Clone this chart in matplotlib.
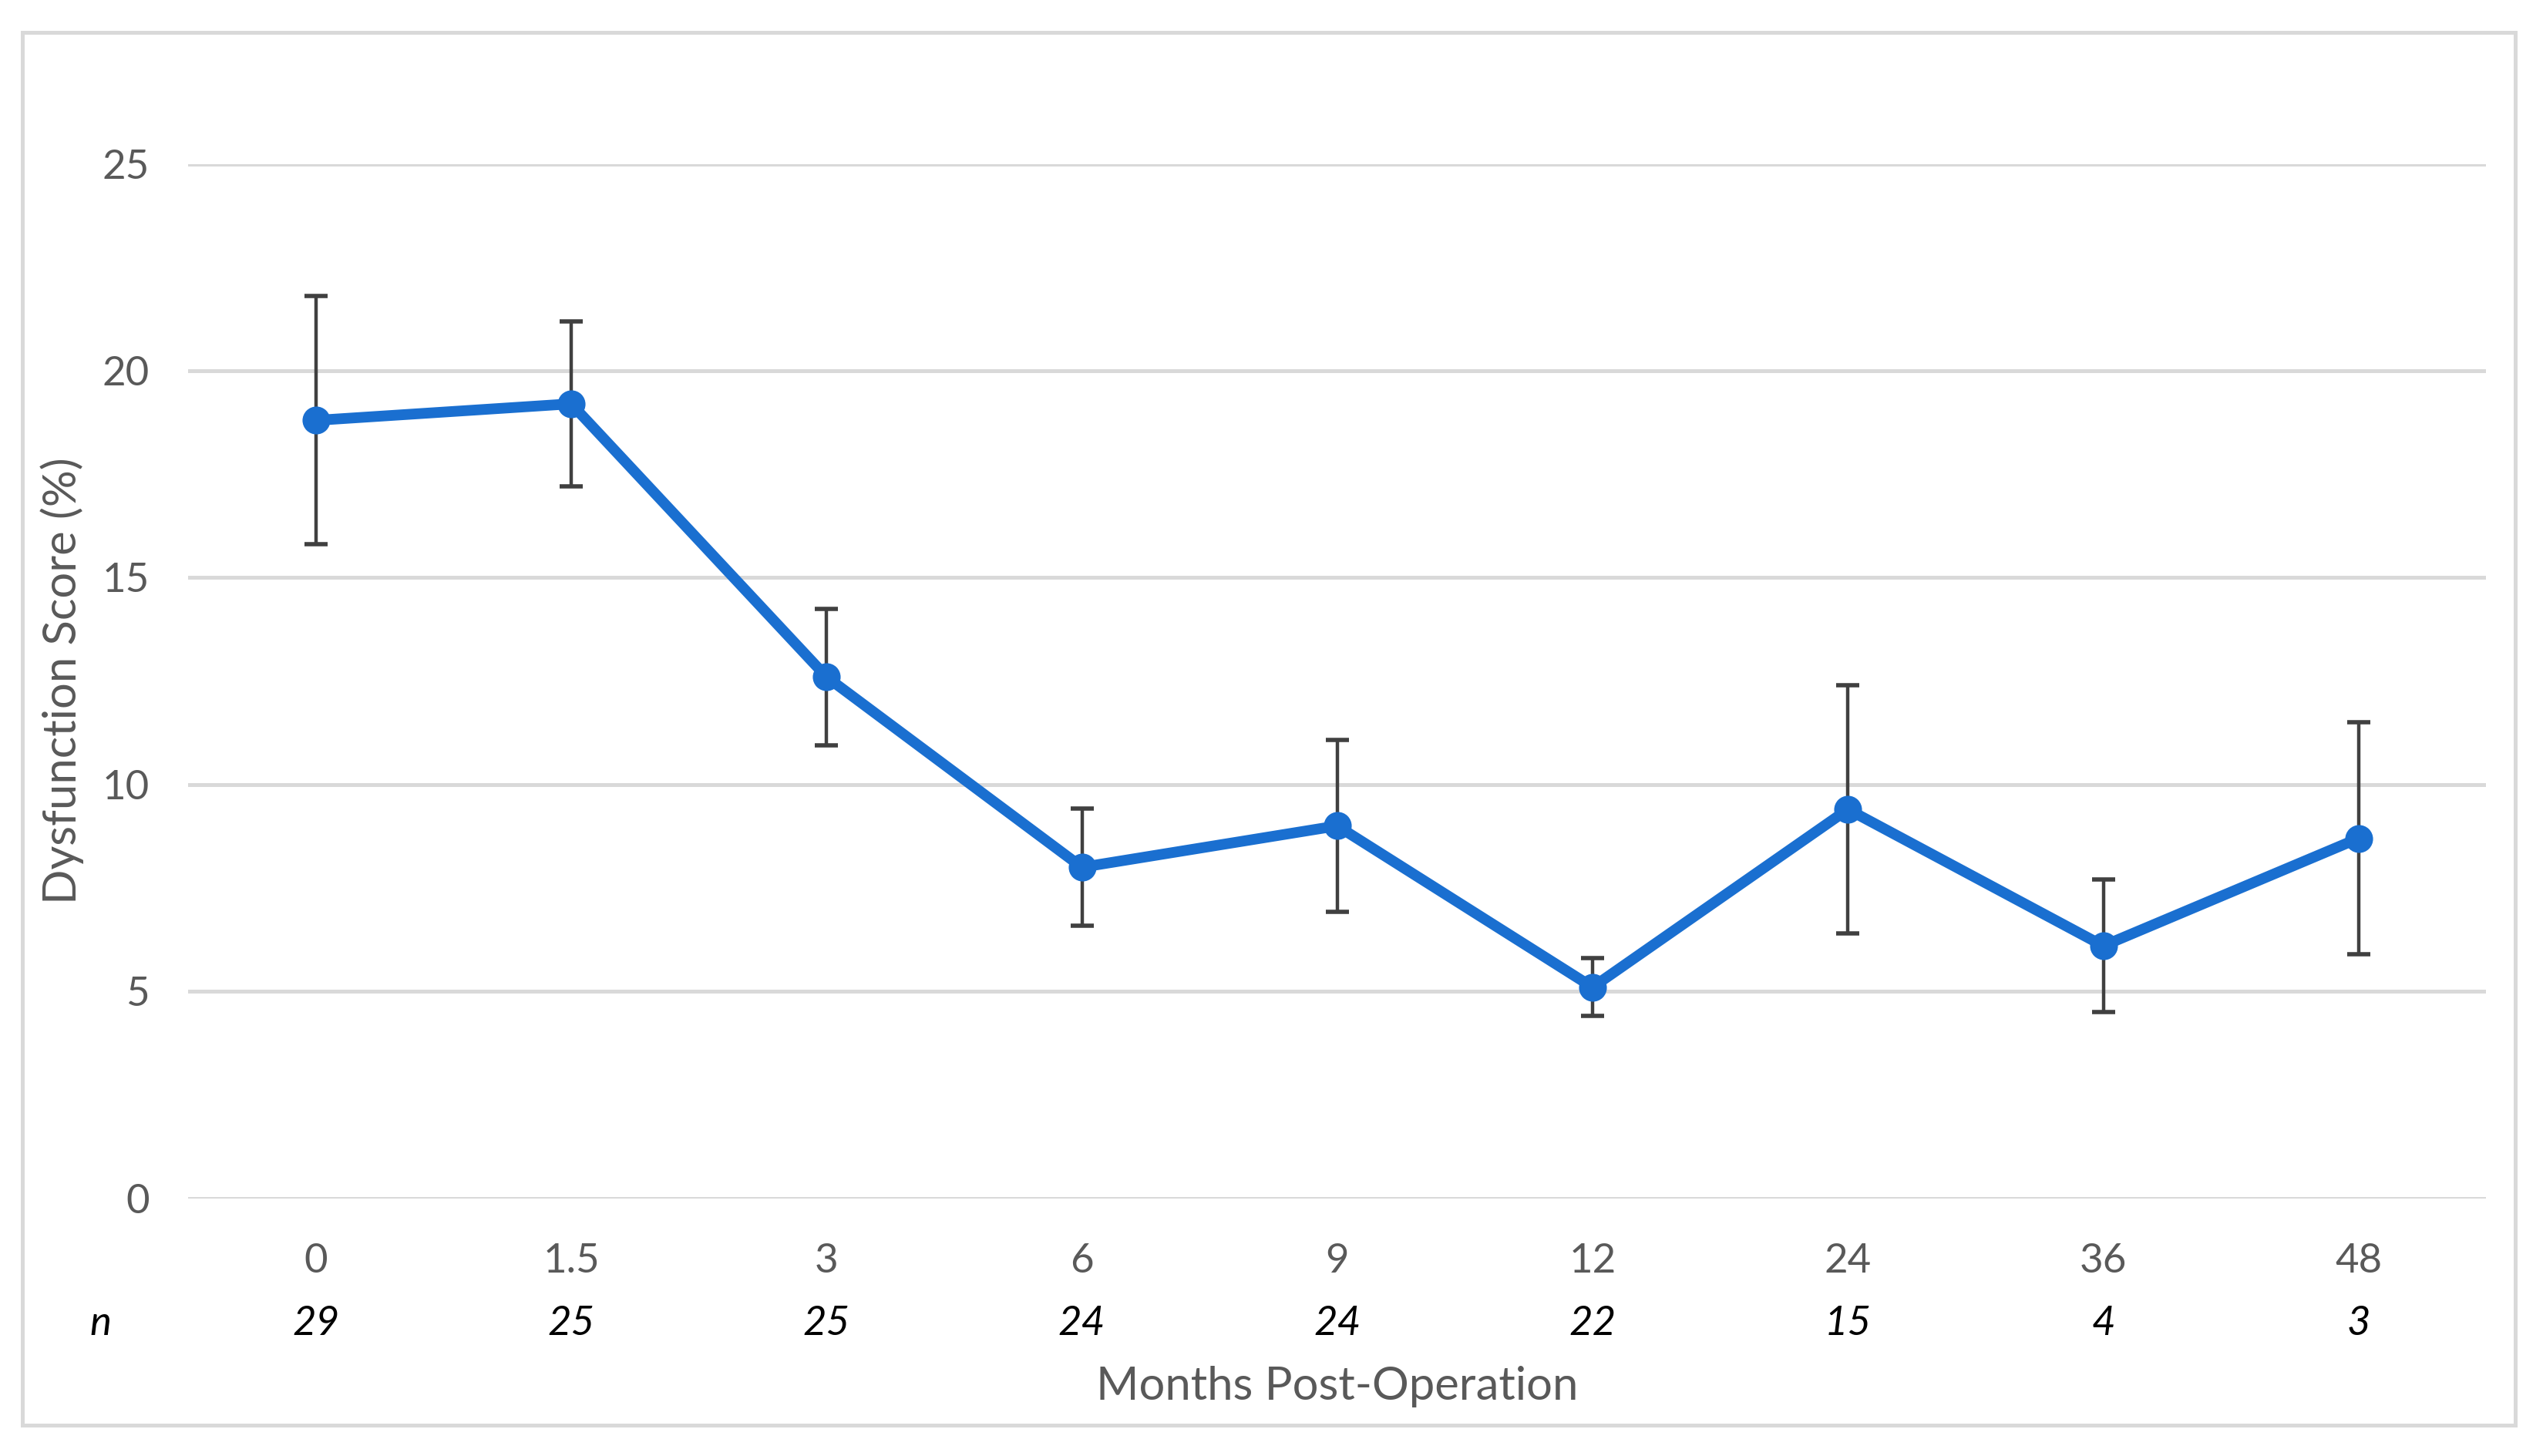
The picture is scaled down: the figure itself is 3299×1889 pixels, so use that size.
import matplotlib
matplotlib.use("Agg")
import matplotlib.pyplot as plt
from matplotlib.patches import Rectangle
import numpy as np

# values
months = ["0", "1.5", "3", "6", "9", "12", "24", "36", "48"]
n_patients = ["29", "25", "25", "24", "24", "22", "15", "4", "3"]
score = [18.8, 19.2, 12.6, 8.0, 9.0, 5.1, 9.4, 6.1, 8.7]
err = [3.0, 2.0, 1.65, 1.42, 2.08, 0.7, 3.0, 1.6, 2.8]

plt.rcParams["font.family"] = ["Lato", "DejaVu Sans"]
grey_txt = "#595959"

fig = plt.figure(figsize=(16.495, 9.445), dpi=200)
ax = fig.add_axes([0.074, 0.177, 0.9037, 0.7105])

x = np.arange(len(months))
ax.errorbar(x, score, yerr=err, fmt="none", ecolor="#404040",
            elinewidth=1.6, capsize=5.5, capthick=2.0, zorder=2)
ax.plot(x, score, color="#1a6fd0", lw=5.0, marker="o", ms=12,
        zorder=3, solid_joinstyle="round")

ax.set_xlim(-0.5, len(months) - 0.5)
ax.set_ylim(0, 25)
ax.set_yticks([0, 5, 10, 15, 20, 25])
ax.set_xticks(x)
ax.set_xticklabels(months)
ax.grid(axis="y", color="#d9d9d9", lw=1.8, zorder=0)
ax.set_axisbelow(True)
for s in ax.spines.values():
    s.set_visible(False)
ax.tick_params(axis="both", length=0, labelsize=19, labelcolor=grey_txt)
ax.tick_params(axis="y", pad=18)
ax.tick_params(axis="x", pad=21)

# n row under the month labels
for xi, nv in zip(x, n_patients):
    ax.text(xi, -0.1207, nv, transform=ax.get_xaxis_transform(),
            ha="center", va="center", fontsize=19, style="italic",
            color="black")
ax.text(-0.038, -0.1207, "n", transform=ax.transAxes, ha="center",
        va="center", fontsize=19, style="italic", color="black")

ax.set_xlabel("Months Post-Operation", fontsize=21.5, color=grey_txt)
ax.xaxis.set_label_coords(0.5, -0.182)
ax.xaxis.label.set_va("center")
ax.set_ylabel("Dysfunction Score (%)", fontsize=21.5, color=grey_txt)
ax.yaxis.set_label_coords(-0.055, 0.5)
ax.yaxis.label.set_va("center")

# light frame around the whole chart
fig.patches.append(Rectangle((14 / 1568, 1 - 879 / 898),
                             (1551 - 14) / 1568, (879 - 20) / 898,
                             transform=fig.transFigure, fill=False,
                             edgecolor="#d9d9d9", lw=1.8))

fig.savefig("out.png", dpi=200, facecolor="white")
